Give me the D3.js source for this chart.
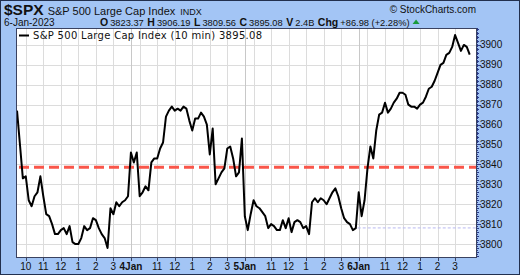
<!DOCTYPE html>
<html>
<head>
<meta charset="utf-8">
<script src="https://cdn.jsdelivr.net/npm/d3@7"></script>
<style>
  html, body { margin:0; padding:0; background:#a3c5f5; }
  svg { display:block; }
  text { font-family: "Liberation Sans", Arial, sans-serif; fill:#111; }
</style>
</head>
<body>
<svg id="chart" width="520" height="275"></svg>
<script>
// --- data: 10-minute closes, Jan 3..6 2023 (39 bars per day) ---
const days = ['3Jan', '4Jan', '5Jan', '6Jan'];
const hourLabels = ['10', '11', '12', '1', '2', '3'];
const hourBars = [3, 9, 15, 21, 27, 33];   // bar offset within the day
const barsPerDay = 39;

const closesJan3 = [3867,3850,3833,3834,3822,3819,3824,3826,3834,3824,3815,3814,3810,3805,3805,3807,3808,3805,3809,3801,
  3800,3800,3803,3809,3807,3808,3813,3812,3808,3805,3803,3798,3818,3815,3821,3819,3821,3822,3824];
const closesJan4 = [3846,3841,3846,3824,3826,3829,3827,3841,3843,3843,3848,3851,3864,3867,3869,3867,3868,3867,3869,3868,
  3862,3857,3863,3863,3866,3864,3860,3845,3858,3830,3833,3836,3838,3848,3849,3843,3834,3836,3853];
const closesJan5 = [3814,3807,3815,3822,3819,3818,3816,3814,3808,3810,3809,3807,3807,3812,3808,3813,3806,3811,3812,3811,
  3808,3809,3805,3821,3823,3821,3823,3822,3820,3823,3826,3828,3824,3818,3813,3811,3810,3807,3808];
const closesJan6 = [3826,3814,3822,3838,3849,3843,3857,3865,3866,3871,3866,3868,3871,3873,3876,3876,3875,3870,3869,3869,
  3868,3870,3871,3874,3878,3879,3882,3886,3890,3891,3895,3896,3899,3905,3901,3897,3900,3899,3895.08];
const closes = [...closesJan3, ...closesJan4, ...closesJan5, ...closesJan6];

const refLevel = 3838.6;     // red dashed level
const prevClose = 3808.10;   // Jan 5 close (faint dashed)
const yTicks = d3.range(3800, 3901, 10);

// --- layout ---
const svg = d3.select('#chart');
const W = 520, H = 275;
const P = { l:16, r:477, t:28, b:258 };

const x = d3.scaleLinear().domain([-0.35, 157.5]).range([P.l, P.r]);
const y = d3.scaleLinear().domain([3793, 3908.5]).range([P.b, P.t]);

// outer frame
svg.append('rect').attr('x',0.5).attr('y',0.5).attr('width',W-1).attr('height',H-1)
  .attr('fill','#a3c5f5').attr('stroke','#22304e');

// plot background
svg.append('rect').attr('x',P.l).attr('y',P.t).attr('width',P.r-P.l).attr('height',P.b-P.t)
  .attr('fill','#fff');

// --- grid ---
const grid = svg.append('g');
grid.selectAll('line.h').data(yTicks).join('line')
  .attr('x1',P.l).attr('x2',P.r).attr('y1',d=>Math.round(y(d))+0.5).attr('y2',d=>Math.round(y(d))+0.5)
  .attr('stroke','#dcdcdc');

const vTicks = [];
days.forEach((dl, d) => {
  if (d > 0) vTicks.push({ i:d*barsPerDay, label:dl, day:true });
  hourBars.forEach((b, h) => vTicks.push({ i:d*barsPerDay + b, label:(d > 0 && h === 0) ? '' : hourLabels[h], day:false }));
});
grid.selectAll('line.v').data(vTicks).join('line')
  .attr('x1',d=>Math.round(x(d.i))+0.5).attr('x2',d=>Math.round(x(d.i))+0.5)
  .attr('y1',P.t).attr('y2',P.b)
  .attr('stroke', d => d.day ? '#c8c8c8' : '#dcdcdc');

// --- reference levels ---
svg.append('line')
  .attr('x1', x(closesJan3.length + closesJan4.length + closesJan5.length) - 1).attr('x2', P.r)
  .attr('y1', y(prevClose)).attr('y2', y(prevClose))
  .attr('stroke','#b8b8f0').attr('stroke-width',1).attr('stroke-dasharray','3,2');

svg.append('line')
  .attr('x1', P.l + 3).attr('x2', P.r)
  .attr('y1', y(refLevel)).attr('y2', y(refLevel))
  .attr('stroke','#f9564a').attr('stroke-width',3).attr('stroke-dasharray','10,5');

// --- price line ---
const line = d3.line().x((d,i)=>x(i)).y(d=>y(d));
svg.append('path').datum(closes)
  .attr('d', line).attr('fill','none')
  .attr('stroke','#000').attr('stroke-width',2).attr('stroke-linejoin','round');

// plot border
svg.append('rect').attr('x',P.l+0.5).attr('y',P.t+0.5).attr('width',P.r-P.l-1).attr('height',P.b-P.t-1)
  .attr('fill','none').attr('stroke','#3a4260');

// --- right axis ---
const ax = svg.append('g');
ax.append('line').attr('x1',P.r+0.5).attr('x2',P.r+0.5).attr('y1',P.t).attr('y2',P.b)
  .attr('stroke','#2a3a8a').attr('stroke-dasharray','1,1');
ax.selectAll('line.minor').data(d3.range(3794, 3909, 2)).join('line')
  .attr('x1',P.r).attr('x2',P.r+2).attr('y1',d=>Math.round(y(d))+0.5).attr('y2',d=>Math.round(y(d))+0.5)
  .attr('stroke','#2a3a8a');
ax.selectAll('line.major').data(yTicks).join('line')
  .attr('x1',P.r).attr('x2',P.r+4).attr('y1',d=>Math.round(y(d))+0.5).attr('y2',d=>Math.round(y(d))+0.5)
  .attr('stroke','#2a3a8a');
ax.selectAll('text').data(yTicks).join('text')
  .attr('x',P.r+3).attr('y',d=>y(d)+3.5).attr('font-size',10).text(d=>d);

// --- bottom axis ---
const bx = svg.append('g');
bx.selectAll('line').data(vTicks.filter(d=>d.label)).join('line')
  .attr('x1',d=>Math.round(x(d.i))+0.5).attr('x2',d=>Math.round(x(d.i))+0.5)
  .attr('y1',P.b).attr('y2',P.b+3).attr('stroke','#3a4260');
bx.selectAll('text').data(vTicks.filter(d=>d.label)).join('text')
  .attr('x',d=>x(d.i)).attr('y',P.b+12).attr('text-anchor','middle')
  .attr('font-size',10).attr('font-weight',d=>d.day?'bold':null)
  .text(d=>d.label);

// --- header ---
const t1 = svg.append('text').attr('x',4).attr('y',15);
t1.append('tspan').attr('font-size',15.5).attr('font-weight','bold').text('$SPX');
t1.append('tspan').attr('font-size',11).attr('dx',4).text('S&P 500 Large Cap Index');
t1.append('tspan').attr('font-size',9).attr('dx',5).text('INDX');

svg.append('text').attr('x',4).attr('y',26).attr('font-size',10).text('6-Jan-2023');

const quote = [['O','3823.37'],['H','3906.19'],['L','3809.56'],['C','3895.08'],['V','2.4B'],['Chg','+86.98 (+2.28%)']];
const t2 = svg.append('text').attr('x',100).attr('y',26).attr('font-size',9.3);
quote.forEach(([k,v],i) => {
  t2.append('tspan').attr('font-weight','bold').attr('font-size',10.5).attr('dx', i ? 3.5 : 0).text(k);
  t2.append('tspan').attr('dx',2).text(v);
});
const bb = t2.node().getBBox();
const qEnd = bb.x + bb.width;
svg.append('path').attr('d',`M${qEnd+3},24 L${qEnd+6.5},19.5 L${qEnd+10},24 Z`).attr('fill','#1a9a3a');

svg.append('text').attr('x',476).attr('y',13).attr('text-anchor','end')
  .attr('font-size',10).attr('fill','#333').text('© StockCharts.com');

// --- legend ---
svg.append('line').attr('x1',19).attr('x2',29).attr('y1',35.5).attr('y2',35.5).attr('stroke','#000').attr('stroke-width',2);
svg.append('text').attr('x',33).attr('y',39).attr('font-size',10)
  .style('font-family','"DejaVu Sans", Verdana, sans-serif').style('letter-spacing','0.3px')
  .text('S&P 500 Large Cap Index (10 min) 3895.08');
</script>
</body>
</html>
